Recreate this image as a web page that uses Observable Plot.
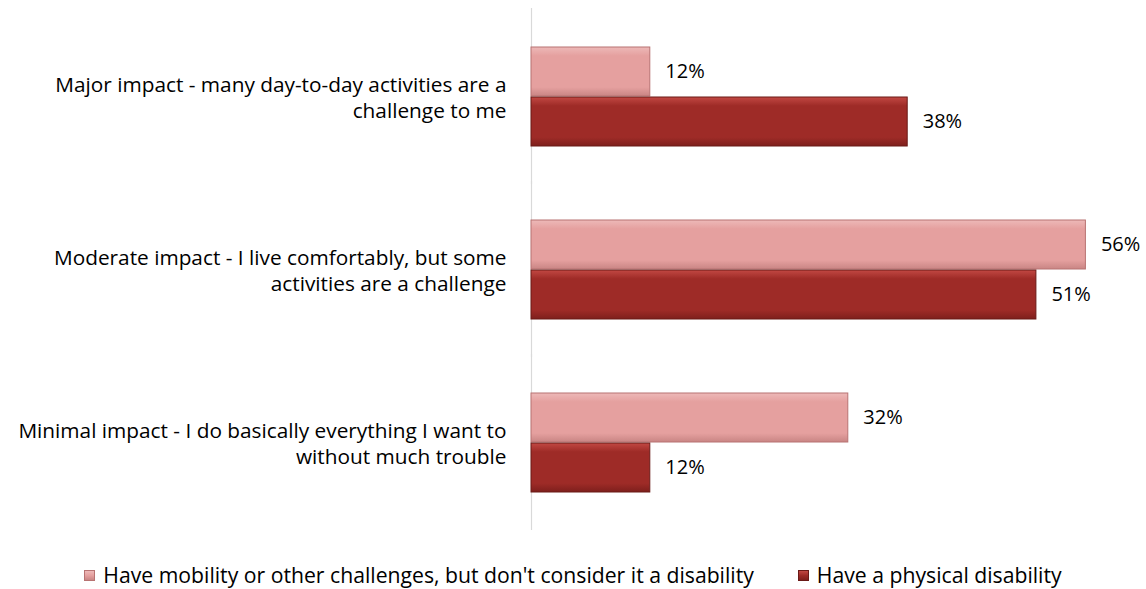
<!DOCTYPE html>
<html>
<head>
<meta charset="utf-8">
<script src="https://cdn.jsdelivr.net/npm/d3@7"></script>
<script src="https://cdn.jsdelivr.net/npm/@observablehq/plot@0.6"></script>
<style>
  html, body { margin: 0; padding: 0; background: #fff; }
  body { width: 1146px; height: 589px; overflow: hidden; font-family: "Open Sans", sans-serif; }
  #legend { display: flex; justify-content: center; align-items: center; gap: 44px; font-size: 21.2px; color: #000; margin-top: 18px; line-height: 24px; }
  .item { display: flex; align-items: center; gap: 8px; }
  .sw { width: 11px; height: 11px; display: inline-block; box-sizing: border-box; }
</style>
</head>
<body>
<div id="chart"></div>
<div id="legend"></div>
<script>
const categories = [
  "Major impact - many day-to-day activities are a challenge to me",
  "Moderate impact - I live comfortably, but some activities are a challenge",
  "Minimal impact - I do basically everything I want to without much trouble"
];
const categoryLabels = [
  "Major impact - many day-to-day activities are a\nchallenge to me",
  "Moderate impact - I live comfortably, but some\nactivities are a challenge",
  "Minimal impact - I do basically everything I want to\nwithout much trouble"
];
const series = [
  "Have mobility or other challenges, but don't consider it a disability",
  "Have a physical disability"
];
const mobilityValues = [12, 56, 32];
const disabilityValues = [38, 51, 12];
const seriesColors = ["#E5A09F", "#9E2B27"];
const seriesStrokes = ["#B87372", "#6A1A17"];

const data = [];
categories.forEach((c, i) => {
  data.push({category: c, series: series[0], value: mobilityValues[i]});
  data.push({category: c, series: series[1], value: disabilityValues[i]});
});
const labelOf = new Map(categories.map((c, i) => [c, categoryLabels[i]]));

const defs = () => {
  const d = d3.create("svg:defs");
  const mk = (id, top, mid, bot) => {
    const g = d.append("linearGradient").attr("id", id).attr("x1", 0).attr("y1", 0).attr("x2", 0).attr("y2", 1);
    g.append("stop").attr("offset", "0%").attr("stop-color", top);
    g.append("stop").attr("offset", "18%").attr("stop-color", mid);
    g.append("stop").attr("offset", "82%").attr("stop-color", mid);
    g.append("stop").attr("offset", "100%").attr("stop-color", bot);
  };
  mk("grad0", "#EDB9B8", "#E5A09F", "#C98584");
  mk("grad1", "#C24843", "#9E2B27", "#7E1F1C");
  return d.node();
};

const chart = Plot.plot({
  width: 1146,
  height: 545,
  marginLeft: 531,
  marginRight: 21,
  marginTop: 10,
  marginBottom: 16,
  style: {fontFamily: "Open Sans, sans-serif", fontSize: "20px", color: "#000"},
  x: {domain: [0, 60], axis: null},
  y: {domain: series, axis: null, paddingInner: 0.02, paddingOuter: 0},
  fy: {domain: categories, paddingInner: 0.42, paddingOuter: 0.21, label: null},
  marks: [
    defs,
    Plot.ruleX([0], {stroke: "#D9D9D9", strokeWidth: 1.2, insetTop: -38, insetBottom: -38}),
    Plot.barX(data.filter(d => d.series === series[0]), {x: "value", y: "series", fy: "category", fill: "url(#grad0)", stroke: seriesStrokes[0], strokeWidth: 1}),
    Plot.barX(data.filter(d => d.series === series[1]), {x: "value", y: "series", fy: "category", fill: "url(#grad1)", stroke: seriesStrokes[1], strokeWidth: 1}),
    Plot.text(data, {x: "value", y: "series", fy: "category", text: d => d.value + "%", dx: 15, textAnchor: "start", fontSize: 20, fill: "#000"}),
    Plot.axisFy({anchor: "left", tickSize: 0, tickPadding: 25, label: null, tickFormat: d => labelOf.get(d), fontSize: 20.8, lineHeight: 1.25, textAnchor: "end"})
  ]
});
document.getElementById("chart").appendChild(chart);

const legend = d3.select("#legend");
series.forEach((s, i) => {
  const it = legend.append("div").attr("class", "item");
  it.append("span").attr("class", "sw")
    .style("background", `linear-gradient(${i === 0 ? "#EDB9B8, #E5A09F, #C98584" : "#C24843, #9E2B27, #7E1F1C"})`)
    .style("border", `1px solid ${seriesStrokes[i]}`);
  it.append("span").text(s);
});
</script>
</body>
</html>
